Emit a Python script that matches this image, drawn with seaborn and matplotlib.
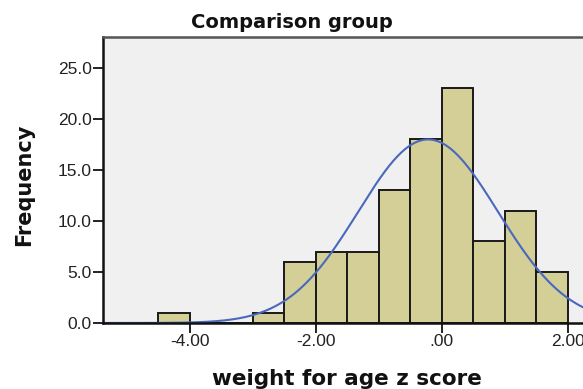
import numpy as np
import pandas as pd
import matplotlib
matplotlib.use("Agg")
import matplotlib.pyplot as plt
import seaborn as sns

# ---- data ----
bin_left_edges = [-4.5, -3.0, -2.5, -2.0, -1.5, -1.0, -0.5, 0.0, 0.5, 1.0, 1.5]
frequencies = [1, 1, 6, 7, 7, 13, 18, 23, 8, 11, 5]
bin_width = 0.5
fit_mean = -0.215
fit_sd = 1.11
n_total = sum(frequencies)
x_ticks = [-4.0, -2.0, 0.0, 2.0]
x_tick_labels = ["-4.00", "-2.00", ".00", "2.00"]
y_ticks = [0, 5, 10, 15, 20, 25]
y_tick_labels = ["0.0", "5.0", "10.0", "15.0", "20.0", "25.0"]
title = "Comparison group"
x_label = "weight for age z score"
y_label = "Frequency"

sns.set_theme(style="white")
plt.rcParams["font.family"] = ["Liberation Sans", "DejaVu Sans"]

fig = plt.figure(figsize=(5.83, 3.89), dpi=100)
W, H = 583, 389
left_px, right_px, top_px, bottom_px = 103, 599, 37, 323
ax = fig.add_axes([left_px / W, 1 - bottom_px / H, (right_px - left_px) / W, (bottom_px - top_px) / H])
ax.set_facecolor("#F0F0F0")

df = pd.DataFrame({"mid": [e + bin_width / 2 for e in bin_left_edges], "count": frequencies})
sns.histplot(data=df, x="mid", weights="count", binwidth=bin_width, binrange=(-4.5, 2.0),
             ax=ax, color="#D3CF97", edgecolor="#1A1A1A", linewidth=1.4, alpha=1.0)

xs = np.linspace(-5.5, 2.6, 400)
ys = n_total * bin_width / (fit_sd * np.sqrt(2 * np.pi)) * np.exp(-0.5 * ((xs - fit_mean) / fit_sd) ** 2)
sns.lineplot(x=xs, y=ys, ax=ax, color="#4A68BE", linewidth=1.5)

ax.set_xlim(-5.38, 2.5)
ax.set_ylim(0, 28.0)
ax.set_xticks(x_ticks)
ax.set_xticklabels(x_tick_labels)
ax.set_yticks(y_ticks)
ax.set_yticklabels(y_tick_labels)
ax.tick_params(axis="both", which="major", direction="out", length=7, width=1.3,
               colors="#111111", labelsize=12.5, labelcolor="#222222", pad=1,
               bottom=True, left=True)
ax.set_xlabel("")
ax.set_ylabel("")
for s in ax.spines.values():
    s.set_color("#555555")
    s.set_linewidth(1.8)
ax.spines["bottom"].set_color("#111111")
ax.spines["left"].set_color("#111111")

fig.text(292 / W, 1 - 22 / H, title, ha="center", va="center", fontsize=14,
         fontweight="bold", family="DejaVu Sans", color="#111111")
fig.text(347 / W, 1 - 379 / H, x_label, ha="center", va="center", fontsize=15.5,
         fontweight="bold", family="DejaVu Sans", color="#111111")
fig.text(24 / W, 1 - 185 / H, y_label, ha="center", va="center", rotation=90,
         fontsize=15, fontweight="bold", family="DejaVu Sans", color="#111111")

fig.savefig("out.png", dpi=100)
